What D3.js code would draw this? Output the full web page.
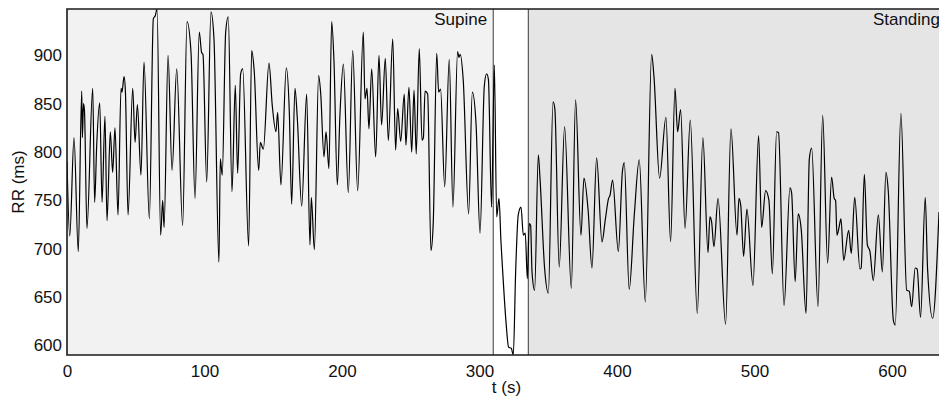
<!DOCTYPE html>
<html>
<head>
<meta charset="utf-8">
<script src="https://cdn.jsdelivr.net/npm/d3@7/dist/d3.min.js"></script>
<style>
  html, body { margin: 0; padding: 0; background: #fff; overflow: hidden; }
  svg { display: block; font-family: "Liberation Sans", Arial, sans-serif; }
</style>
</head>
<body>
<div id="chart"></div>
<script>
// time (s) and RR interval (ms)
const T = [
  0, 2.0, 5.1, 8.2, 10.7, 11.2, 12.0, 12.7, 14.5, 18.7, 20.1, 21.6, 23.8, 25.5, 27.6, 29.1,
  31.5, 33.2, 34.9, 37.1, 39.3, 40.0, 41.5, 42.5, 44.4, 47.8, 49.5, 51.2, 53.8, 56.0, 59.9,
  62.8, 64.2, 65.5, 68.1, 69.6, 70.6, 73.5, 76.4, 79.8, 84.1, 87.3, 90.2, 93.1, 96.2, 97.9,
  98.9, 101.6, 104.7, 106.9, 110.5, 111.5, 112.9, 115.4, 117.3, 120.0, 122.4, 124.1, 126.3,
  127.8, 132.1, 134.3, 136.2, 139.4, 140.6, 142.8, 146.9, 149.3, 152.0, 153.2, 155.6, 159.5,
  161.7, 163.4, 165.8, 167.5, 170.7, 174.3, 176.7, 177.7, 179.9, 183.0, 184.5, 186.9, 188.4,
  190.5, 192.5, 194.2, 196.6, 198.5, 201.0, 204.6, 207.8, 211.4, 215.5, 216.7, 218.2, 219.6,
  221.6, 224.5, 226.9, 228.8, 231.5, 233.7, 236.9, 239.0, 240.5, 242.7, 245.3, 246.5, 248.7,
  250.7, 252.4, 254.0, 256.2, 258.2, 259.2, 260.4, 262.3, 264.7, 266.4, 268.9, 270.3, 271.7,
  274.7, 278.0, 280.7, 284.1, 285.0, 286.0, 288.2, 292.1, 294.8, 297.5, 300.4, 303.5, 305.2,
  306.5, 308.8, 310.8, 312.5, 314.2, 315.6, 316.9, 319.3, 321.2, 323.1, 324.6, 326.3, 328.2,
  330.2, 331.9, 333.3, 334.8, 336.2, 337.2, 338.2, 340.1, 342.8, 344.0, 347.4, 350.1, 353.5,
  354.8, 358.0, 361.9, 366.8, 369.9, 373.8, 376.0, 379.0, 381.8, 385.2, 389.1, 391.5, 393.9,
  394.9, 396.8, 401.0, 403.9, 405.3, 408.9, 412.6, 416.2, 420.6, 425.2, 426.9, 431.0, 435.6,
  439.0, 442.2, 444.1, 446.3, 449.5, 453.3, 458.4, 462.5, 466.2, 467.6, 468.8, 470.5, 473.5,
  479.0, 482.9, 487.3, 488.7, 490.0, 492.1, 494.5, 498.9, 503.0, 505.2, 508.1, 510.5, 513.0,
  516.1, 517.5, 521.5, 525.8, 527.0, 529.6, 531.8, 534.0, 537.5, 539.9, 541.6, 546.2, 549.6,
  553.2, 556.1, 558.0, 559.0, 560.0, 561.5, 562.9, 564.9, 568.5, 570.4, 572.9, 576.7, 577.6,
  579.9, 582.1, 584.0, 586.4, 590.1, 593.0, 595.6, 597.3, 601.0, 602.4, 606.5, 610.7, 612.6,
  614.3, 616.9, 618.3, 620.8, 624.2, 625.9, 629.6, 634.2
];
const RR = [
  790, 713, 815, 697, 863, 815, 850, 843, 721, 866, 748, 807, 851, 748, 837, 729,
  821, 779, 825, 735, 866, 862, 878, 862, 735, 866, 810, 849, 776, 893, 731,
  938, 941, 948, 714, 750, 722, 900, 781, 886, 724, 935, 903, 752, 924, 903,
  901, 769, 945, 917, 686, 793, 776, 924, 940, 759, 869, 778, 881,
  886, 703, 905, 883, 781, 810, 803, 892, 848, 821, 841, 766, 887,
  841, 746, 866, 835, 744, 860, 704, 753, 699, 879, 861, 795, 821,
  783, 935, 893, 766, 838, 891, 758, 905, 760, 924, 855, 866, 824,
  886, 795, 900, 828, 897, 812, 917, 802, 845, 811, 860, 807, 867,
  800, 864, 798, 907, 812, 815, 863, 860, 698, 728, 902, 862, 865,
  764, 896, 743, 904, 898, 901, 874, 736, 862, 829, 716, 868, 881,
  875, 743, 890, 733, 752, 708, 676, 624, 598, 597, 590, 676, 735,
  743, 714, 716, 669, 726, 724, 676, 657, 797, 773, 679, 654, 852,
  845, 681, 826, 659, 854, 714, 773, 740, 680, 794, 707, 730, 752,
  755, 771, 697, 779, 789, 658, 735, 792, 645, 901, 878, 773, 836,
  707, 866, 821, 844, 721, 833, 633, 815, 696, 733, 728, 702, 752,
  622, 824, 714, 752, 745, 692, 741, 662, 817, 722, 760, 750, 674,
  821, 820, 641, 763, 758, 666, 736, 720, 633, 793, 804, 640, 838,
  685, 774, 752, 750, 714, 722, 731, 688, 719, 695, 753, 679, 680,
  777, 704, 697, 667, 735, 676, 779, 760, 626, 621, 840, 657, 656,
  640, 680, 679, 629, 753, 679, 628, 738
];

const PHASE_NAMES = ["Supine", "", "Standing"];
const PHASE_FROM = [0, 310, 335.5];
const PHASE_TO = [310, 335.5, 639.3];

const X_TICKS = [0, 100, 200, 300, 400, 500, 600];
const Y_TICKS = [600, 650, 700, 750, 800, 850, 900];

const WIDTH = 939;
const HEIGHT = 400;
const LEFT = 67;
const RIGHT = 946;   // plot runs past the window edge
const TOP = 9;
const BOTTOM = 355;
const FONT = 17;
const PHASE_FILL = ["#f2f2f2", "#ffffff", "#e5e5e5"];

const x = d3.scaleLinear()
    .domain([0, 639.3])
    .range([LEFT, RIGHT]);

const y = d3.scaleLinear()
    .domain([590, 948])
    .range([BOTTOM, TOP]);

const svg = d3.select("#chart").append("svg")
    .attr("width", WIDTH)
    .attr("height", HEIGHT);

svg.append("defs").append("clipPath")
    .attr("id", "plot-clip")
  .append("rect")
    .attr("x", LEFT)
    .attr("y", TOP)
    .attr("width", RIGHT - LEFT)
    .attr("height", BOTTOM - TOP);

const phases = PHASE_NAMES.map((name, i) => ({ name, from: PHASE_FROM[i], to: PHASE_TO[i], fill: PHASE_FILL[i] }));

svg.append("g")
  .selectAll("rect")
  .data(phases)
  .enter().append("rect")
    .attr("x", d => x(d.from))
    .attr("y", TOP)
    .attr("width", d => x(d.to) - x(d.from))
    .attr("height", BOTTOM - TOP)
    .attr("fill", d => d.fill);

// phase boundaries
svg.append("g")
  .selectAll("line")
  .data(PHASE_FROM.slice(1))
  .enter().append("line")
    .attr("x1", d => x(d))
    .attr("x2", d => x(d))
    .attr("y1", TOP)
    .attr("y2", BOTTOM)
    .attr("stroke", "#3a3a3a")
    .attr("stroke-width", 1);

svg.append("g")
  .selectAll("text")
  .data(phases.filter(d => d.name))
  .enter().append("text")
    .attr("x", d => x(d.to) - 6)
    .attr("y", 25)
    .attr("text-anchor", "end")
    .attr("font-size", FONT)
    .attr("fill", "#111")
    .text(d => d.name);

const line = d3.line()
    .x((d, i) => x(T[i]))
    .y(d => y(d))
    .curve(d3.curveMonotoneX);

svg.append("path")
    .datum(RR)
    .attr("clip-path", "url(#plot-clip)")
    .attr("fill", "none")
    .attr("stroke", "#000")
    .attr("stroke-width", 1.2)
    .attr("stroke-linejoin", "round")
    .attr("d", line);

// frame: top, left, bottom
svg.append("path")
    .attr("d", `M${RIGHT},${TOP}H${LEFT}V${BOTTOM}H${RIGHT}`)
    .attr("fill", "none")
    .attr("stroke", "#1a1a1a")
    .attr("stroke-width", 1.6);

const xAxis = svg.append("g")
    .attr("transform", `translate(0,${BOTTOM})`)
    .call(d3.axisBottom(x).tickValues(X_TICKS).tickSize(0).tickPadding(10));

const yAxis = svg.append("g")
    .attr("transform", `translate(${LEFT},0)`)
    .call(d3.axisLeft(y).tickValues(Y_TICKS).tickSize(0).tickPadding(5));

[xAxis, yAxis].forEach(g => {
  g.select(".domain").remove();
  g.selectAll("text")
      .attr("font-size", FONT)
      .attr("font-family", "Liberation Sans, Arial, sans-serif")
      .attr("fill", "#111");
});

svg.append("text")
    .attr("x", (LEFT + RIGHT) / 2)
    .attr("y", 393)
    .attr("text-anchor", "middle")
    .attr("font-size", FONT)
    .attr("fill", "#111")
    .text("t (s)");

svg.append("text")
    .attr("transform", `translate(24,${(TOP + BOTTOM) / 2}) rotate(-90)`)
    .attr("text-anchor", "middle")
    .attr("font-size", FONT)
    .attr("fill", "#111")
    .text("RR (ms)");
</script>
</body>
</html>
